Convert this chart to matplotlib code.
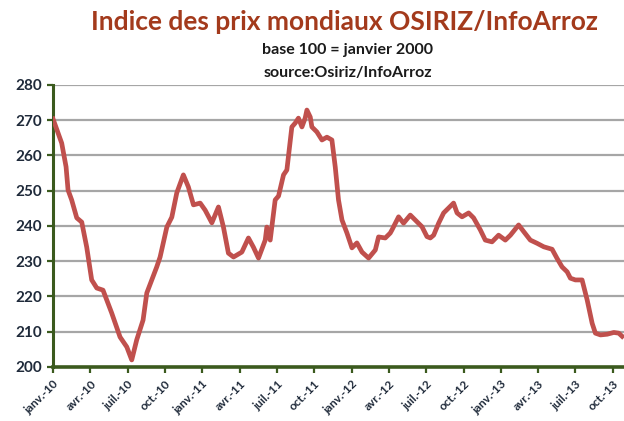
import matplotlib
matplotlib.use("Agg")
import matplotlib.pyplot as plt

# months elapsed since janv. 2010
months = [0.0, 0.70, 1.05, 1.21, 1.50, 1.91, 2.31, 2.71, 3.11, 3.52, 4.02, 4.72, 5.39, 5.93,
          6.33, 6.73, 7.24, 7.54, 8.34, 8.61, 9.15, 9.55, 9.95, 10.48, 10.88, 11.29, 11.83,
          12.23, 12.77, 13.30, 13.70, 14.10, 14.51, 15.18, 15.71, 16.11, 16.52, 17.06, 17.19,
          17.46, 17.86, 18.13, 18.53, 18.80, 19.20, 19.47, 19.73, 20.01, 20.27, 20.41, 20.68,
          20.81, 21.21, 21.62, 22.02, 22.42, 22.69, 22.95, 23.23, 23.63, 24.03, 24.43, 24.84,
          25.37, 25.91, 26.17, 26.71, 27.11, 27.25, 27.78, 28.18, 28.72, 29.26, 29.66, 30.06,
          30.33, 30.60, 31.00, 31.40, 31.80, 32.20, 32.48, 32.88, 33.41, 33.81, 34.35, 34.75,
          35.29, 35.82, 36.36, 36.77, 37.43, 37.84, 38.37, 38.91, 39.45, 40.12, 40.52, 40.92,
          41.33, 41.59, 41.99, 42.53, 42.94, 43.34, 43.60, 44.01, 44.55, 45.08, 45.48, 45.75]
index = [270.4, 263.5, 256.8, 250.2, 247.4, 242.3, 241.1, 234.0, 224.7, 222.4, 221.8, 215.3,
         208.5, 205.7, 202.0, 207.7, 213.3, 221.0, 228.4, 231.2, 239.7, 242.5, 249.4, 254.5,
         251.1, 246.0, 246.5, 244.5, 240.9, 245.4, 239.7, 232.3, 231.2, 232.6, 236.6, 234.0,
         230.9, 236.0, 239.7, 236.0, 247.4, 248.5, 254.5, 255.9, 268.1, 269.2, 270.6, 268.1,
         270.6, 272.9, 270.9, 268.1, 266.7, 264.4, 265.2, 264.4, 256.7, 247.4, 241.7, 238.0,
         233.8, 235.2, 232.6, 230.9, 233.2, 236.9, 236.6, 238.0, 238.9, 242.6, 240.8, 243.1,
         241.2, 239.8, 237.0, 236.6, 237.4, 240.8, 243.7, 245.1, 246.5, 243.7, 242.6, 243.7,
         242.3, 238.9, 236.0, 235.5, 237.4, 236.0, 237.4, 240.3, 238.4, 236.0, 235.1, 234.1,
         233.4, 230.8, 228.4, 227.0, 225.2, 224.7, 224.7, 219.0, 212.4, 209.6, 209.1, 209.3,
         209.8, 209.6, 208.7]

tick_months = list(range(0, 46, 3))
tick_labels = ['janv.-10', 'avr.-10', 'juil.-10', 'oct.-10',
               'janv.-11', 'avr.-11', 'juil.-11', 'oct.-11',
               'janv.-12', 'avr.-12', 'juil.-12', 'oct.-12',
               'janv.-13', 'avr.-13', 'juil.-13', 'oct.-13']
y_ticks = list(range(200, 281, 10))

plt.rcParams['font.family'] = ['Lato', 'DejaVu Sans']

fig = plt.figure(figsize=(6.24, 4.21), dpi=100)
ax = fig.add_axes([53/624, 1 - 367/421, 1 - 53/624, (367 - 85)/421])

for y in y_ticks[1:]:
    ax.axhline(y, color='#a6a6a6', lw=1.6, zorder=1)

ax.plot(months, index, color='#c0504d', lw=3.4, solid_joinstyle='round', zorder=3)

ax.set_xlim(0, 45.9)
ax.set_ylim(200, 280)
ax.set_yticks(y_ticks)
ax.set_xticks(tick_months)
ax.set_xticklabels(tick_labels, rotation=45, ha='right', va='top', rotation_mode='anchor')

green = '#3b5a1e'
for s in ['top', 'right']:
    ax.spines[s].set_visible(False)
ax.spines['left'].set_color(green)
ax.spines['left'].set_linewidth(2.2)
ax.spines['bottom'].set_color(green)
ax.spines['bottom'].set_linewidth(2.6)
ax.tick_params(axis='both', colors=green, length=4, width=1.6, direction='out')
ax.tick_params(axis='y', labelsize=11, labelcolor='#1f2a3a', pad=4)
ax.tick_params(axis='x', labelsize=8.5, labelcolor='#1f2a3a', pad=4)
for lab in ax.get_yticklabels() + ax.get_xticklabels():
    lab.set_fontweight('bold')

fig.text(344/624, 1 - 22/421, 'Indice des prix mondiaux OSIRIZ/InfoArroz', ha='center', va='center',
         fontsize=19, fontweight='bold', color='#a33a1c')
fig.text(348/624, 1 - 50/421, 'base 100 = janvier 2000', ha='center', va='center',
         fontsize=11.5, fontweight='bold', color='#1a1a1a')
fig.text(348/624, 1 - 73/421, 'source:Osiriz/InfoArroz', ha='center', va='center',
         fontsize=11.5, fontweight='bold', color='#1a1a1a')

fig.savefig('out.png', dpi=100)
